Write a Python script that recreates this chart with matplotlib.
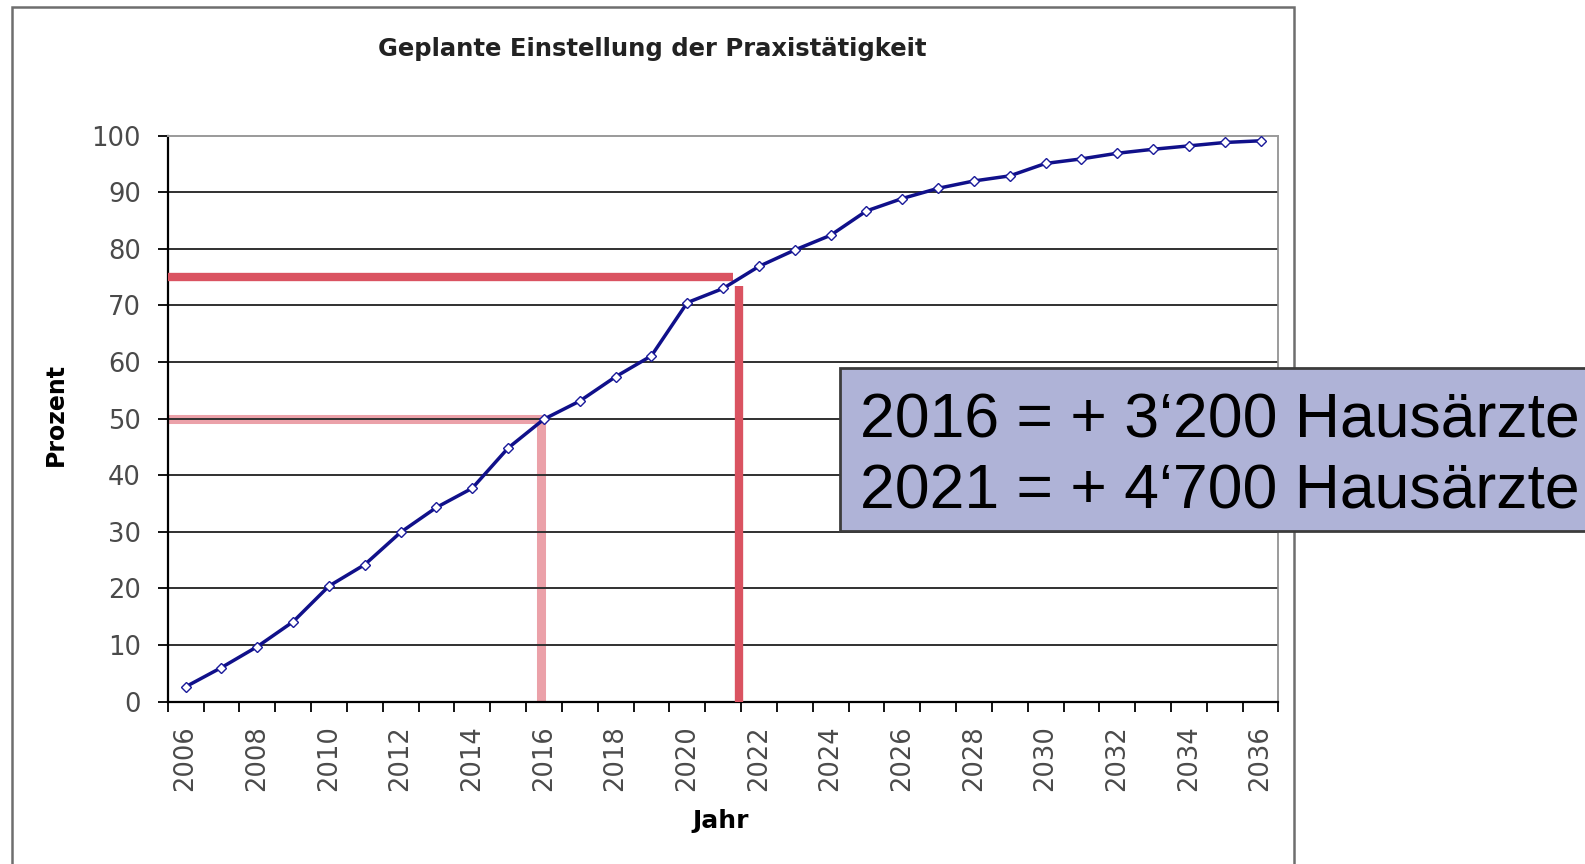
import matplotlib
matplotlib.use('Agg')
import matplotlib.pyplot as plt
from matplotlib.patches import Rectangle

years = list(range(2006, 2037))
prozent = [2.6, 6.0, 9.7, 14.1, 20.4, 24.2, 29.9, 34.3, 37.7, 44.8,
           49.9, 53.1, 57.4, 61.1, 70.5, 73.0, 76.9, 79.8, 82.4, 86.7,
           88.9, 90.7, 92.0, 92.9, 95.1, 95.9, 96.9, 97.6, 98.2, 98.8, 99.1]
year_labels = [str(y) if (y - 2006) % 2 == 0 else '' for y in years]
box_lines = ['2016 = + 3\u2018200 Hausärzte', '2021 = + 4\u2018700 Hausärzte']

W, H = 1585, 864
fig = plt.figure(figsize=(W / 100, H / 100), dpi=100)
fig.patch.set_facecolor('white')

# outer chart border
fig.add_artist(Rectangle((11.7 / W, -0.05), (1294 - 11.7) / W, 1.05 - 6.7 / H,
                         transform=fig.transFigure, fill=False,
                         edgecolor='#6e6e6e', lw=1.8, zorder=0))

left, right, top, bottom = 167.7, 1278.5, 135.7, 701.5
ax = fig.add_axes([left / W, 1 - bottom / H, (right - left) / W, (bottom - top) / H])

x = list(range(len(years)))
ax.set_xlim(-0.5, len(years) - 0.5)
ax.set_ylim(0, 100)

# gridlines
for v in range(10, 100, 10):
    ax.axhline(v, color='#303030', lw=1.4, zorder=2)

# pink / red guide lines
pink = '#eba1a9'
red = '#da5361'
ax.plot([-0.5, 10.06], [50, 50], color=pink, lw=6.5, zorder=1.5, solid_capstyle='butt')
ax.plot([9.91, 9.91], [0, 50], color=pink, lw=6.5, zorder=1.5, solid_capstyle='butt')
ax.plot([-0.5, 15.28], [75, 75], color=red, lw=6, zorder=3, solid_capstyle='butt')
ax.plot([15.44, 15.44], [0, 73.4], color=red, lw=6, zorder=3, solid_capstyle='butt')

ax.plot(x, prozent, color='#10108a', lw=2.5, marker='D', ms=5,
        markerfacecolor='white', markeredgecolor='#1a1a9a', markeredgewidth=1.0, zorder=4)

# axes styling
ax.spines['left'].set_color('black')
ax.spines['left'].set_linewidth(1.6)
ax.spines['bottom'].set_color('black')
ax.spines['bottom'].set_linewidth(1.6)
ax.spines['right'].set_color('#8a8a8a')
ax.spines['right'].set_linewidth(1.2)
ax.spines['top'].set_color('#9a9a9a')
ax.spines['top'].set_linewidth(1.4)

ax.set_yticks(range(0, 101, 10))
ax.tick_params(axis='y', direction='out', length=7.2, width=1.3, color='black',
               labelsize=18.5, labelcolor='#4a4a4a', pad=12)
ax.set_xticks(x)
ax.set_xticklabels(year_labels, rotation=90)
ax.tick_params(axis='x', which='major', length=0, labelsize=18.5, labelcolor='#4a4a4a', pad=17)
ax.set_xticks([i - 0.5 for i in range(len(years) + 1)], minor=True)
ax.tick_params(axis='x', which='minor', direction='out', length=7.2, width=1.3, color='black')

fig.text(652 / W, 1 - 49 / H, 'Geplante Einstellung der Praxistätigkeit',
         ha='center', va='center', fontsize=17.5, fontweight='bold', color='#222222')
fig.text(56 / W, 1 - 415 / H, 'Prozent', rotation=90, ha='center', va='center',
         fontsize=17, fontweight='bold', color='black')
fig.text(721 / W, 1 - 821 / H, 'Jahr', ha='center', va='center',
         fontsize=18, fontweight='bold', color='black')

# annotation box
fig.add_artist(Rectangle((840 / W, 1 - 531 / H), 0.6, (531 - 368) / H,
                         transform=fig.transFigure, facecolor='#afb3d7',
                         edgecolor='#3c3c3c', lw=2, zorder=5))
fig.text(860 / W, 1 - 437.5 / H, box_lines[0], ha='left', va='baseline',
         fontsize=45, family='Liberation Sans', color='black', zorder=6)
fig.text(860 / W, 1 - 508.5 / H, box_lines[1], ha='left', va='baseline',
         fontsize=45, family='Liberation Sans', color='black', zorder=6)

fig.savefig('out.png', dpi=100)
